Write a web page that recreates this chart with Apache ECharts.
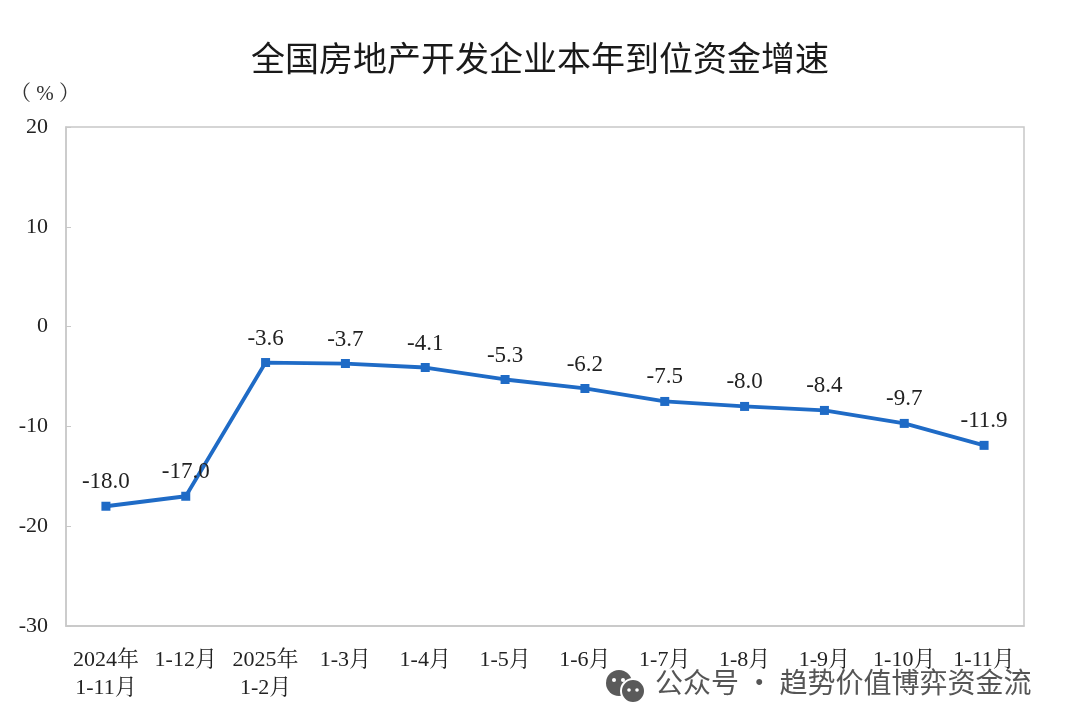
<!DOCTYPE html>
<html>

<head>
  <meta charset="utf-8" />
  <script src="https://cdn.jsdelivr.net/npm/echarts@6/dist/echarts.min.js"></script>
  <style>
    html, body { margin: 0; padding: 0; background: #fff; }
    #chart { width: 1080px; height: 726px; }
  </style>
</head>

<body>
  <div id="chart"></div>
  <script type="text/javascript">
    const months = ['2024年\n1-11月', '1-12月', '2025年\n1-2月', '1-3月', '1-4月', '1-5月',
      '1-6月', '1-7月', '1-8月', '1-9月', '1-10月', '1-11月'];
    const growth = [-18.0, -17.0, -3.6, -3.7, -4.1, -5.3, -6.2, -7.5, -8.0, -8.4, -9.7, -11.9];

    const chart = echarts.init(document.getElementById("chart"));
    const serif = '"Liberation Serif", "Noto Serif CJK SC", "Noto Sans CJK SC", serif';
    const axisGray = '#c8c8c8';

    var option = {
      animation: false,
      title: {
        text: '全国房地产开发企业本年到位资金增速',
        left: 'center',
        top: 36,
        textStyle: {
          fontFamily: '"Noto Sans CJK SC", sans-serif',
          fontSize: 34,
          fontWeight: 'normal',
          color: '#1a1a1a'
        }
      },
      grid: {
        left: 66,
        right: 56,
        top: 127,
        bottom: 100,
        show: true,
        borderColor: axisGray,
        borderWidth: 1.5
      },
      xAxis: {
        type: 'category',
        data: months,
        boundaryGap: true,
        axisLine: { onZero: false, lineStyle: { color: axisGray, width: 1.5 } },
        axisTick: { inside: true, length: 8, lineStyle: { color: axisGray, width: 1.5 } },
        axisLabel: {
          interval: 0,
          margin: 20,
          fontFamily: serif,
          fontSize: 22,
          lineHeight: 28,
          color: '#222'
        }
      },
      yAxis: {
        type: 'value',
        min: -30,
        max: 20,
        interval: 10,
        name: '（ % ）',
        nameLocation: 'end',
        nameGap: 22,
        nameTextStyle: { fontFamily: serif, fontSize: 21, color: '#333', align: 'right', padding: [0, -14, 0, 0] },
        axisLine: { show: true, lineStyle: { color: axisGray, width: 1.5 } },
        axisTick: { show: true, inside: true, length: 5, lineStyle: { color: axisGray } },
        splitLine: { show: false },
        axisLabel: { margin: 18, fontFamily: serif, fontSize: 22, color: '#222' }
      },
      series: [
        {
          name: '增速',
          type: 'line',
          data: growth,
          symbol: 'rect',
          symbolSize: 9,
          lineStyle: { color: '#1f6bc6', width: 3.8 },
          itemStyle: { color: '#1f6bc6' },
          label: {
            show: true,
            position: 'top',
            distance: 8,
            fontFamily: serif,
            fontSize: 23,
            color: '#222',
            formatter: p => p.value.toFixed(1)
          }
        }
      ],
      graphic: [
        {
          type: 'group',
          left: 606,
          top: 670,
          children: [
            { type: 'circle', shape: { cx: 14, cy: 12, r: 13 }, style: { fill: '#5a5a5a' } },
            { type: 'circle', shape: { cx: 28, cy: 20, r: 12 }, style: { fill: '#5a5a5a', stroke: '#fff', lineWidth: 2 } },
            { type: 'circle', shape: { cx: 9, cy: 9, r: 2 }, style: { fill: '#fff' } },
            { type: 'circle', shape: { cx: 18, cy: 9, r: 2 }, style: { fill: '#fff' } },
            { type: 'circle', shape: { cx: 24, cy: 19, r: 1.8 }, style: { fill: '#fff' } },
            { type: 'circle', shape: { cx: 32, cy: 19, r: 1.8 }, style: { fill: '#fff' } }
          ]
        },
        {
          type: 'text',
          left: 655,
          top: 668,
          style: {
            text: '公众号 · 趋势价值博弈资金流',
            font: '28px "Noto Sans CJK SC", sans-serif',
            fill: '#555'
          }
        }
      ]
    };

    chart.setOption(option);

    window.onresize = () => {
      chart?.resize();
    };
  </script>
</body>

</html>
